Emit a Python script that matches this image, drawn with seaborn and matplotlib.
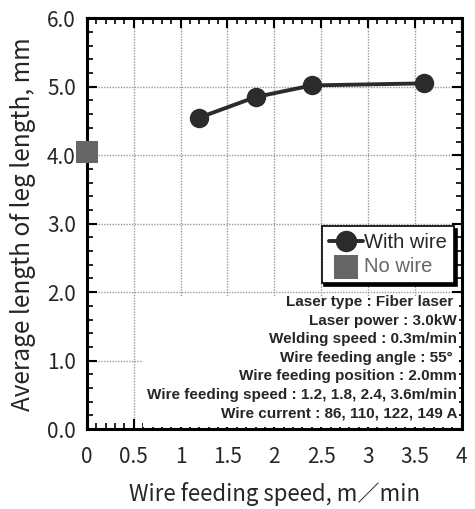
import numpy as np
import pandas as pd
import matplotlib
matplotlib.use("Agg")
import matplotlib.pyplot as plt
import seaborn as sns
from matplotlib.ticker import MultipleLocator
from matplotlib.patches import Rectangle

# Données
wire_speed = [1.2, 1.8, 2.4, 3.6]
leg_with_wire = [4.55, 4.85, 5.02, 5.05]
nowire_speed = [0.0]
leg_no_wire = [4.05]

xtick_vals = [0, 0.5, 1, 1.5, 2, 2.5, 3, 3.5, 4]
xtick_labels = ["0", "0.5", "1", "1.5", "2", "2.5", "3", "3.5", "4"]
ytick_vals = [0, 1, 2, 3, 4, 5, 6]
ytick_labels = ["0.0", "1.0", "2.0", "3.0", "4.0", "5.0", "6.0"]

conditions = [
    "Laser type : Fiber laser ",
    "Laser power : 3.0kW",
    "Welding speed : 0.3m/min",
    "Wire feeding angle : 55\u00b0 ",
    "Wire feeding position : 2.0mm",
    "Wire feeding speed : 1.2, 1.8, 2.4, 3.6m/min",
    "Wire current : 86, 110, 122, 149 A",
]

sns.set_theme(style="ticks")
plt.rcParams["font.family"] = ["Noto Sans CJK JP", "DejaVu Sans"]

fig = plt.figure(figsize=(4.75, 5.09), dpi=100)
ax = fig.add_axes([0.183, 0.157, 0.789, 0.807])

df = pd.DataFrame({"speed": wire_speed, "leg": leg_with_wire})
sns.lineplot(data=df, x="speed", y="leg", ax=ax, color="#2b2b2b", lw=2.8,
             marker="o", markersize=14, markeredgewidth=0, label="With wire", zorder=5)
sns.scatterplot(x=nowire_speed, y=leg_no_wire, ax=ax, color="#666666", marker="s",
                s=260, edgecolor="none", label="No wire", zorder=6, clip_on=False)

ax.set_xlim(0, 4)
ax.set_ylim(0, 6)
ax.set_xticks(xtick_vals)
ax.set_xticklabels(xtick_labels)
ax.set_yticks(ytick_vals)
ax.set_yticklabels(ytick_labels)
ax.xaxis.set_minor_locator(MultipleLocator(0.1))
ax.yaxis.set_minor_locator(MultipleLocator(0.2))
ax.tick_params(which="both", direction="in", top=True, right=True, bottom=True,
               left=True, color="black", labelsize=15)
ax.tick_params(which="major", length=7, width=1.5)
ax.tick_params(which="minor", length=4.5, width=1.2)
ax.tick_params(axis="x", which="both", pad=12)
ax.tick_params(axis="y", which="both", pad=8)
for s in ax.spines.values():
    s.set_linewidth(2.2)
    s.set_color("black")

ax.grid(True, which="major", color="#999999", ls=(0, (1, 1)), lw=1.0)

ax.set_xlabel("Wire feeding speed, m\uff0fmin", fontsize=16, labelpad=10)
ax.set_ylabel("Average length of leg length, mm", fontsize=17.5, labelpad=8)

# cadre blanc des conditions
ax.add_patch(Rectangle((0.6, 0.03), 3.37, 1.92, facecolor="white", edgecolor="none", zorder=3))
y0 = 1.85
for i, line in enumerate(conditions):
    ax.text(3.95, y0 - i * 0.27, line, ha="right", va="center", fontsize=11,
            fontweight="bold", family=["Liberation Sans", "DejaVu Sans"], zorder=4)

leg = ax.legend(loc="lower right", bbox_to_anchor=(0.99, 0.345),
                frameon=True, fancybox=False, shadow={"color": "black", "alpha": 1},
                handlelength=1.7, handletextpad=0.05, borderpad=0.35, labelspacing=0.25,
                borderaxespad=0.2, markerscale=1.1,
                prop={"family": ["Liberation Sans", "DejaVu Sans"], "size": 14.5})
leg.get_frame().set_edgecolor("black")
leg.get_frame().set_linewidth(1.2)
leg.set_zorder(7)
leg.get_texts()[1].set_color("#666666")

fig.savefig("out.png", dpi=100)
